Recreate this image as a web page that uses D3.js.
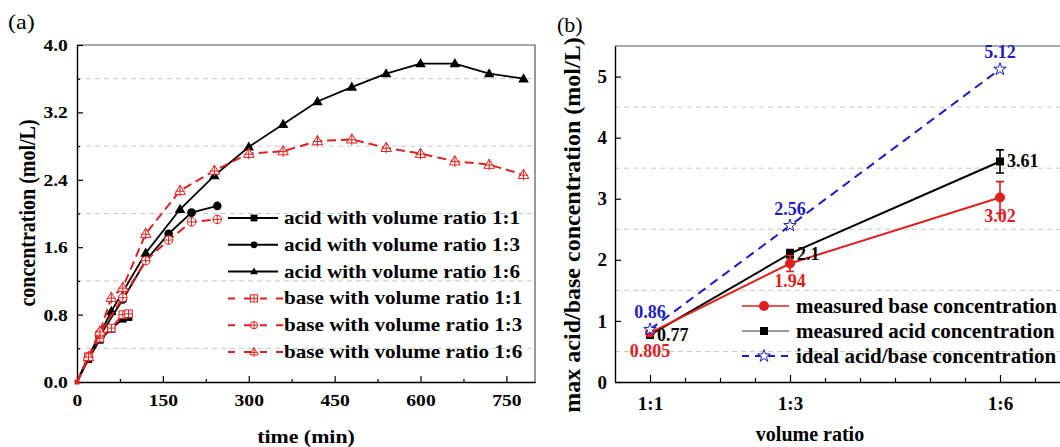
<!DOCTYPE html>
<html>
<head>
<meta charset="utf-8">
<script src="https://cdn.jsdelivr.net/npm/d3@7"></script>
<style>
body { margin: 0; background: #fff; }
svg text { font-family: "Liberation Serif", "Times New Roman", serif; font-weight: bold; }
svg text.plain { font-weight: normal; }
</style>
</head>
<body>
<svg id="chart" width="1060" height="447"></svg>
<script>
// (a) concentration against time
var acid11Time = [0, 20, 40, 60, 80, 90];
var acid11Conc = [0, 0.27, 0.50, 0.63, 0.75, 0.77];
var acid13Time = [0, 20, 40, 80, 120, 160, 200, 245];
var acid13Conc = [0, 0.30, 0.55, 0.98, 1.44, 1.76, 2.01, 2.09];
var acid16Time = [0, 20, 40, 60, 120, 180, 240, 300, 360, 420, 480, 540, 600, 660, 720, 780];
var acid16Conc = [0, 0.30, 0.57, 0.84, 1.53, 2.05, 2.45, 2.79, 3.06, 3.33, 3.50, 3.66, 3.78, 3.78, 3.66, 3.60];
var base11Time = [0, 20, 40, 60, 80, 90];
var base11Conc = [0, 0.30, 0.52, 0.64, 0.80, 0.81];
var base13Time = [0, 20, 40, 80, 120, 160, 200, 245];
var base13Conc = [0, 0.30, 0.58, 1.00, 1.44, 1.685, 1.90, 1.93];
var base16Time = [0, 20, 40, 60, 80, 120, 180, 240, 300, 360, 420, 480, 540, 600, 660, 720, 780];
var base16Conc = [0, 0.30, 0.60, 1.00, 1.12, 1.76, 2.27, 2.51, 2.71, 2.74, 2.86, 2.88, 2.78, 2.71, 2.62, 2.58, 2.46];

var timeTicks = [0, 150, 300, 450, 600, 750];
var concTicks = [0, 0.8, 1.6, 2.4, 3.2, 4.0];
var legendA = ['acid with volume ratio 1:1', 'acid with volume ratio 1:3', 'acid with volume ratio 1:6',
	'base with volume ratio 1:1', 'base with volume ratio 1:3', 'base with volume ratio 1:6'];

// (b) maximum concentration against volume ratio
var ratioLabels = ['1:1', '1:3', '1:6'];
var ratioValues = [1, 3, 6];
var idealConc = [0.86, 2.56, 5.12];
var acidMax = [0.77, 2.1, 3.61];
var acidErr = [0.03, 0.07, 0.19];
var baseMax = [0.805, 1.94, 3.02];
var baseErr = [0.03, 0.13, 0.26];
var maxTicks = [0, 1, 2, 3, 4, 5];
var legendB = ['measured base concentration', 'measured acid concentration', 'ideal acid/base concentration'];

var RED = '#e0201e';
var BLUE = '#1c1cc4';
var GRID = '#c8c8c8';
var SX = 1.15; // the text of panel (a) is a bit wider than plain Times

var svg = d3.select('#chart');

// Text that is stretched horizontally by sx (rotated text too).
function addText(g, x, y, txt, size, sx, rot) {
	var tr = 'translate(' + x + ',' + y + ') scale(' + sx + ',1)' + (rot ? ' rotate(' + rot + ')' : '');
	return g.append('text').attr('transform', tr).attr('font-size', size).text(txt);
}

// Draws one marker; open markers of panel (a) carry a small cross inside.
function marker(g, mark, open, color, x, y, s, cross) {
	var p;
	if (mark === 'square') {
		p = g.append('rect').attr('x', x - s).attr('y', y - s).attr('width', 2 * s).attr('height', 2 * s);
	} else if (mark === 'circle') {
		p = g.append('circle').attr('cx', x).attr('cy', y).attr('r', s);
	} else if (mark === 'triangle') {
		p = g.append('path').attr('d', 'M' + x + ',' + (y - s * 1.2) + 'L' + (x + s * 1.15) + ',' + (y + s * 0.8) +
			'L' + (x - s * 1.15) + ',' + (y + s * 0.8) + 'Z');
	} else if (mark === 'star') {
		p = g.append('path').attr('transform', 'translate(' + x + ',' + y + ')')
			.attr('d', d3.symbol(d3.symbolStar, s * s * 2.4)());
	}
	if (open) {
		p.attr('fill', '#fff').attr('stroke', color).attr('stroke-width', 1);
		if (cross) {
			var top = mark === 'triangle' ? y - s * 1.2 : y - s;
			var bot = mark === 'triangle' ? y + s * 0.8 : y + s;
			var hy = mark === 'triangle' ? y + s * 0.1 : y;
			g.append('line').attr('x1', x).attr('x2', x).attr('y1', top).attr('y2', bot + (mark === 'triangle' ? 2 : 0))
				.attr('stroke', color).attr('stroke-width', 1);
			g.append('line').attr('x1', x - s).attr('x2', x + s).attr('y1', hy).attr('y2', hy)
				.attr('stroke', color).attr('stroke-width', 1);
		}
	} else {
		p.attr('fill', color);
	}
}

// ---------------- panel (a) ----------------
var gA = svg.append('g');
var xA = d3.scaleLinear().domain([0, 800]).range([77, 535]);
var yA = d3.scaleLinear().domain([0, 4]).range([382, 45]);

// dashed grid half way between the labelled ticks
gA.selectAll('line.grid').data(d3.range(0.4, 4, 0.8)).enter().append('line')
	.attr('x1', xA(0)).attr('x2', xA(800))
	.attr('y1', function (d) { return yA(d); }).attr('y2', function (d) { return yA(d); })
	.attr('stroke', GRID).attr('stroke-dasharray', '5,4');

// frame
gA.append('path').attr('d', 'M' + xA(0) + ',' + yA(4) + 'H' + xA(800) + 'V' + yA(0))
	.attr('fill', 'none').attr('stroke', '#555').attr('stroke-width', 1.2);

gA.append('g').attr('transform', 'translate(0,382)')
	.call(d3.axisBottom(xA).tickValues(d3.range(75, 800, 150)).tickSize(-3).tickSizeOuter(0).tickFormat(''));
var axA = gA.append('g').attr('transform', 'translate(0,382)')
	.call(d3.axisBottom(xA).tickValues(timeTicks).tickSize(-6).tickSizeOuter(0).tickPadding(12).tickFormat(d3.format('d')));
gA.append('g').attr('transform', 'translate(77,0)')
	.call(d3.axisLeft(yA).tickValues(d3.range(0.4, 4, 0.8)).tickSize(-3).tickSizeOuter(0).tickFormat(''));
var ayA = gA.append('g').attr('transform', 'translate(77,0)')
	.call(d3.axisLeft(yA).tickValues(concTicks).tickSize(-6).tickSizeOuter(0).tickPadding(8).tickFormat(d3.format('.1f')));

[axA, ayA].forEach(function (ax) {
	ax.selectAll('text').attr('font-size', 17).attr('fill', '#000').attr('transform', 'scale(' + SX + ',1)');
	ax.select('.domain').attr('stroke', '#000').attr('stroke-width', 1.4);
});
gA.selectAll('.tick line').attr('stroke', '#000').attr('stroke-width', 1.2);

addText(gA, 306, 443, 'time (min)', 19, SX).attr('text-anchor', 'middle');
addText(gA, 35, 213, 'concentration (mol/L)', 20, SX, -90).attr('text-anchor', 'middle');
addText(gA, 8, 29, '(a)', 21, SX).attr('class', 'plain');

var seriesA = [
	{t: acid11Time, c: acid11Conc, mark: 'square', base: false},
	{t: acid13Time, c: acid13Conc, mark: 'circle', base: false},
	{t: acid16Time, c: acid16Conc, mark: 'triangle', base: false},
	{t: base11Time, c: base11Conc, mark: 'square', base: true},
	{t: base13Time, c: base13Conc, mark: 'circle', base: true},
	{t: base16Time, c: base16Conc, mark: 'triangle', base: true}
];
var markSize = {square: 3.8, circle: 4.3, triangle: 4.6};

seriesA.forEach(function (s) {
	var color = s.base ? RED : '#000';
	var line = d3.line()
		.x(function (i) { return xA(s.t[i]); })
		.y(function (i) { return yA(s.c[i]); });
	gA.append('path').attr('d', line(d3.range(s.t.length)))
		.attr('fill', 'none').attr('stroke', color).attr('stroke-width', s.base ? 2 : 1.8)
		.attr('stroke-dasharray', s.base ? '9,5' : null);
	s.t.forEach(function (t, i) {
		if (i === 0) return;
		marker(gA, s.mark, s.base, color, xA(t), yA(s.c[i]), markSize[s.mark], true);
	});
});
// start point shared by all series
marker(gA, 'square', false, RED, xA(0), yA(0), 2.5);

// legend (a)
seriesA.forEach(function (s, i) {
	var y = 218 + i * 26.8;
	var color = s.base ? RED : '#000';
	gA.append('line').attr('x1', 228).attr('x2', s.base ? 283 : 278).attr('y1', y).attr('y2', y)
		.attr('stroke', color).attr('stroke-width', 2).attr('stroke-dasharray', s.base ? '7,9' : null);
	marker(gA, s.mark, s.base, color, 254, y, s.base ? 3.6 : 3.4, true);
	addText(gA, 284, y + 6, legendA[i], 18.4, SX);
});

// ---------------- panel (b) ----------------
var gB = svg.append('g');
var xB = d3.scaleLinear().domain([0.5, 7]).range([615, 1070]);
var yB = d3.scaleLinear().domain([0, 5.5]).range([382, 46]);

gB.selectAll('line.grid').data(d3.range(0.5, 5, 1)).enter().append('line')
	.attr('x1', xB(0.5)).attr('x2', xB(7))
	.attr('y1', function (d) { return yB(d); }).attr('y2', function (d) { return yB(d); })
	.attr('stroke', GRID).attr('stroke-dasharray', '5,4');

gB.append('path').attr('d', 'M' + xB(0.5) + ',' + yB(5.5) + 'H' + xB(7) + 'V' + yB(0))
	.attr('fill', 'none').attr('stroke', '#555').attr('stroke-width', 1.2);

gB.append('g').attr('transform', 'translate(0,382)')
	.call(d3.axisBottom(xB).tickValues(d3.range(1.5, 7, 0.5).filter(function (v) { return ratioValues.indexOf(v) < 0; }))
		.tickSize(-4).tickSizeOuter(0).tickFormat(''));
var axB = gB.append('g').attr('transform', 'translate(0,382)')
	.call(d3.axisBottom(xB).tickValues(ratioValues).tickSize(-7).tickSizeOuter(0).tickPadding(15)
		.tickFormat(function (d, i) { return ratioLabels[i]; }));
var ayB = gB.append('g').attr('transform', 'translate(615,0)')
	.call(d3.axisLeft(yB).tickValues(maxTicks).tickSize(-6).tickSizeOuter(0).tickPadding(8).tickFormat(d3.format('d')));

[axB, ayB].forEach(function (ax) {
	ax.selectAll('text').attr('font-size', 19).attr('fill', '#000');
	ax.select('.domain').attr('stroke', '#000').attr('stroke-width', 1.4);
});
gB.selectAll('.tick line').attr('stroke', '#000').attr('stroke-width', 1.2);

addText(gB, 810, 441, 'volume ratio', 20, 1).attr('text-anchor', 'middle');
addText(gB, 580, 225, 'max acid/base concentration (mol/L)', 24, 1, -90).attr('text-anchor', 'middle');
addText(gB, 557, 32, '(b)', 22, 1).attr('class', 'plain');

var lineB = function (vals) {
	return d3.line()
		.x(function (i) { return xB(ratioValues[i]); })
		.y(function (i) { return yB(vals[i]); })(d3.range(vals.length));
};

// ideal
gB.append('path').attr('d', lineB(idealConc)).attr('fill', 'none')
	.attr('stroke', BLUE).attr('stroke-width', 2).attr('stroke-dasharray', '9,6');
// measured acid and base with error bars
[{v: acidMax, e: acidErr, color: '#000', mark: 'square', s: 4},
 {v: baseMax, e: baseErr, color: RED, mark: 'circle', s: 5}].forEach(function (m) {
	gB.append('path').attr('d', lineB(m.v)).attr('fill', 'none').attr('stroke', m.color).attr('stroke-width', 2);
	m.v.forEach(function (v, i) {
		var x = xB(ratioValues[i]);
		var y0 = yB(v - m.e[i]), y1 = yB(v + m.e[i]);
		gB.append('path').attr('d', 'M' + (x - 4) + ',' + y0 + 'H' + (x + 4) + 'M' + x + ',' + y0 + 'V' + y1 +
			'M' + (x - 4) + ',' + y1 + 'H' + (x + 4)).attr('fill', 'none').attr('stroke', m.color).attr('stroke-width', 1.6);
		marker(gB, m.mark, false, m.color, x, yB(v), m.s);
	});
});
idealConc.forEach(function (v, i) {
	marker(gB, 'star', true, BLUE, xB(ratioValues[i]), yB(v), 4.5);
});

// value labels
idealConc.forEach(function (v, i) {
	addText(gB, xB(ratioValues[i]), yB(v) - 11, String(v), 18, 1).attr('text-anchor', 'middle').attr('fill', BLUE);
});
acidMax.forEach(function (v, i) {
	addText(gB, xB(ratioValues[i]) + 7, yB(v) + 6, String(v), 18, 1).attr('fill', '#000');
});
baseMax.forEach(function (v, i) {
	addText(gB, xB(ratioValues[i]), yB(v) + 24, String(v), 18, 1).attr('text-anchor', 'middle').attr('fill', RED);
});

// legend (b)
var legB = [{color: RED, mark: 'circle', s: 5, dash: null, w: 1.3},
	{color: '#000', mark: 'square', s: 4, dash: null, w: 0.8},
	{color: BLUE, mark: 'star', s: 4.5, dash: '7,6', w: 2}];
legB.forEach(function (l, i) {
	var y = 306 + i * 25;
	gB.append('line').attr('x1', 742).attr('x2', 789).attr('y1', y).attr('y2', y)
		.attr('stroke', l.color).attr('stroke-width', l.w).attr('stroke-dasharray', l.dash);
	marker(gB, l.mark, l.mark === 'star', l.color, 764, y, l.s);
	addText(gB, 796, y + 7, legendB[i], 21, 1);
});
</script>
</body>
</html>
